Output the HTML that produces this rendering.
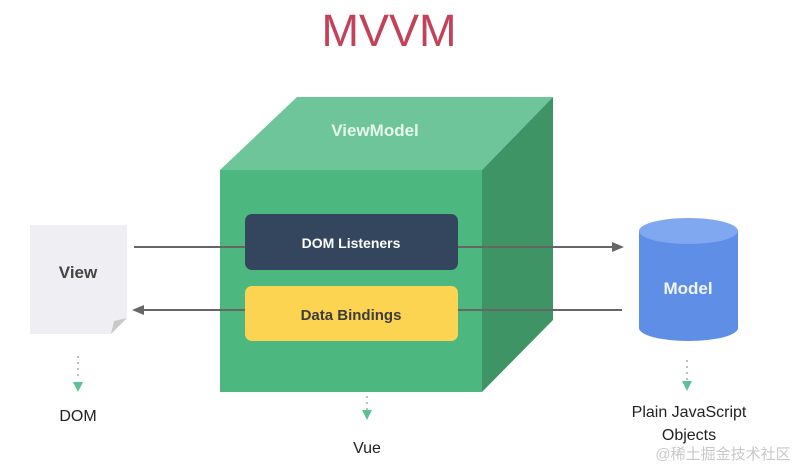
<!DOCTYPE html>
<html><head><meta charset="utf-8"><style>
body{margin:0;background:#fff;width:805px;height:469px;overflow:hidden}
svg text{font-family:"Liberation Sans",sans-serif}
</style></head><body>
<svg width="805" height="469" viewBox="0 0 805 469" xmlns="http://www.w3.org/2000/svg">
<text x="389" y="46" text-anchor="middle" font-size="45" fill="#c2425a">MVVM</text>
<!-- cube -->
<polygon points="220,170 297,97 553,97 482,170" fill="#6ec59a"/>
<polygon points="482,170 553,97 553,320 482,392" fill="#3f9466"/>
<rect x="220" y="170" width="262" height="222" fill="#4cb880"/>
<text x="375" y="136" text-anchor="middle" font-size="17" font-weight="bold" fill="#e6f6ec">ViewModel</text>
<!-- arrows -->
<line x1="134" y1="247" x2="614" y2="247" stroke="#666" stroke-width="2"/>
<polygon points="624,247 612,242 612,252" fill="#666"/>
<line x1="142" y1="310" x2="622" y2="310" stroke="#666" stroke-width="2"/>
<polygon points="132,310 144,305 144,315" fill="#666"/>
<rect x="245" y="214" width="213" height="56" rx="7" fill="#34465e"/>
<text x="351" y="248" text-anchor="middle" font-size="14" font-weight="bold" fill="#fff">DOM Listeners</text>
<rect x="245" y="286" width="213" height="55" rx="7" fill="#fdd452"/>
<text x="351" y="320" text-anchor="middle" font-size="15" font-weight="bold" fill="#3d3d3d">Data Bindings</text>
<!-- view -->
<polygon points="30,225 127,225 127,318 111,334 30,334" fill="#efeff3"/>
<polygon points="127,318 111,334 114,321" fill="#c9c9cc"/>
<text x="78" y="278" text-anchor="middle" font-size="17" font-weight="bold" fill="#444">View</text>
<!-- model -->
<path d="M639,231 L639,328 A49.5,13 0 0 0 738,328 L738,231 Z" fill="#5f8ee6"/>
<ellipse cx="688.5" cy="231" rx="49.5" ry="13" fill="#80a8f0"/>
<text x="688" y="294" text-anchor="middle" font-size="17" font-weight="bold" fill="#f2f6ff">Model</text>
<!-- dotted -->
<g stroke="#aaa" stroke-width="1.5" stroke-dasharray="2,4">
<line x1="78" y1="356" x2="78" y2="380"/>
<line x1="367" y1="396" x2="367" y2="410"/>
<line x1="687" y1="360" x2="687" y2="380"/>
</g>
<g fill="#5fbf96">
<polygon points="73,382 83,382 78,392"/>
<polygon points="362,410 372,410 367,420"/>
<polygon points="682,381 692,381 687,391"/>
</g>
<g font-size="16" fill="#222" text-anchor="middle">
<text x="78" y="421">DOM</text>
<text x="367" y="453">Vue</text>
<text x="689" y="417">Plain JavaScript</text>
<text x="689" y="440">Objects</text>
</g>
<text x="723" y="459" text-anchor="middle" font-size="15" fill="#c8c8c8" font-family="Liberation Sans, Noto Sans CJK SC, sans-serif">@稀土掘金技术社区</text>
</svg>
</body></html>
